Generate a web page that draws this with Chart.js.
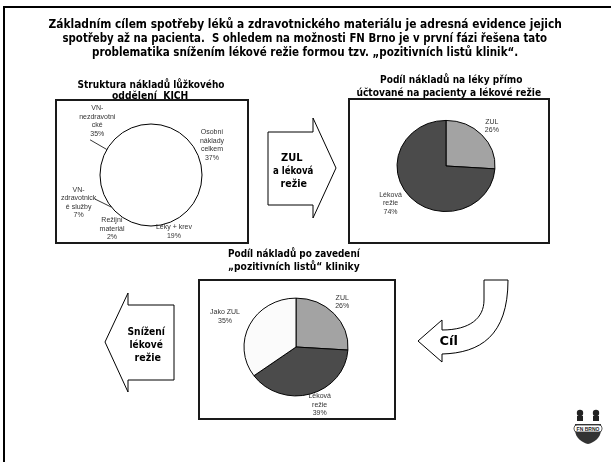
<!DOCTYPE html>
<html>
<head>
<meta charset="utf-8">
<script src="https://cdn.jsdelivr.net/npm/chart.js@4.4.1/dist/chart.umd.min.js"></script>
<style>
  html, body { margin: 0; padding: 0; }
  body { width: 611px; height: 462px; position: relative; overflow: hidden; background: #fff;
         font-family: "DejaVu Sans Condensed", "DejaVu Sans", sans-serif; }
  .frame { position: absolute; left: 3px; top: 6px; width: 620px; height: 470px;
           border-left: 2px solid #000; border-top: 2px solid #000; }
  .t { position: absolute; white-space: pre; font-weight: bold; color: #000; line-height: 1;
       transform-origin: center center; }
  .box { position: absolute; border: 2px solid #1a1a1a; background: #fff; box-sizing: border-box; }
  canvas.layer { position: absolute; left: 0; top: 0; }
  svg { position: absolute; left: 0; top: 0; }
</style>
</head>
<body>
<div class="frame"></div>

<div class="box" style="left:55px;top:99px;width:194px;height:145px"></div>
<div class="box" style="left:348px;top:98px;width:202px;height:146px"></div>
<div class="box" style="left:198px;top:279px;width:198px;height:141px"></div>

<svg width="611" height="462" viewBox="0 0 611 462">
  <!-- block arrow pointing right -->
  <polygon points="268,132 313,132 313,118 336,168 313,218 313,205 268,205"
           fill="#fff" stroke="#000" stroke-width="1"/>
  <!-- block arrow pointing left -->
  <polygon points="174,305 128,305 128,293 105,342 128,392 128,380 174,380"
           fill="#fff" stroke="#000" stroke-width="1"/>
  <!-- curved arrow -->
  <path d="M 484 280 L 508 280 C 508 336, 480 353, 442 354 L 442 362 L 418 341 L 442 320 L 442 330 C 470 330, 484 318, 484 300 Z"
        fill="#fff" stroke="#000" stroke-width="1"/>
  <!-- hospital emblem -->
  <g transform="translate(588,428)">
    <circle cx="-8" cy="-15" r="3.2" fill="#222"/>
    <circle cx="8" cy="-15" r="3.2" fill="#222"/>
    <rect x="-11" y="-12" width="6" height="5" fill="#222"/>
    <rect x="5" y="-12" width="6" height="5" fill="#222"/>
    <path d="M -13 -4 L 13 -4 L 13 2 C 13 10, 5 15, 0 16 C -5 15, -13 10, -13 2 Z" fill="#333"/>
    <rect x="-14" y="-3" width="28" height="7" rx="3" fill="#fff" stroke="#333" stroke-width="0.8"/>
    <text x="0" y="2.5" font-size="5" font-family="Liberation Sans" font-weight="bold" text-anchor="middle" fill="#222">FN BRNO</text>
  </g>
</svg>

<canvas id="pie1" class="layer" width="611" height="462"></canvas>
<canvas id="pie2" class="layer" width="611" height="462"></canvas>
<canvas id="pie3" class="layer" width="611" height="462"></canvas>

<script>
// ---- data ----
const costCategories = ['Osobní\nnáklady\ncelkem', 'Léky + krev', 'Režijní\nmateriál', 'VN-\nzdravotnick\né služby', 'VN-\nnezdravotni\ncké'];
const costShares = [37, 19, 2, 7, 35];

const drugCategories = ['ZUL', 'Léková\nrežie'];
const drugShares = [26, 74];

const afterCategories = ['ZUL', 'Léková\nrežie', 'Jako ZUL'];
const afterShares = [26, 39, 35];

const headingLines = [
  'Základním cílem spotřeby léků a zdravotnického materiálu je adresná evidence jejich',
  'spotřeby až na pacienta.  S ohledem na možnosti FN Brno je v první fázi řešena tato',
  'problematika snížením lékové režie formou tzv. „pozitivních listů klinik“.'
];

// ---- page text ----
function putText(str, cx, cy, size, width) {
  const el = document.createElement('div');
  el.className = 't';
  el.textContent = str;
  el.style.fontSize = size + 'px';
  document.body.appendChild(el);
  const w = el.offsetWidth, h = el.offsetHeight;
  el.style.left = (cx - w / 2) + 'px';
  el.style.top = (cy - h / 2) + 'px';
  if (width) el.style.transform = 'scaleX(' + (width / w) + ')';
}

putText(headingLines[0], 305, 25, 11.5, 513);
putText(headingLines[1], 305, 39, 11.5, 485);
putText(headingLines[2], 305, 53, 11.5, 426);

putText('Struktura nákladů lůžkového', 151, 84, 10.5, 147);
putText('oddělení  KICH', 150, 95, 10.5, 76);
putText('Podíl nákladů na léky přímo', 451, 79, 10.5, 142);
putText('účtované na pacienty a lékové režie', 449, 92, 10.5, 185);
putText('Podíl nákladů po zavedení', 294, 253, 10.5, 132);
putText('„pozitivních listů“ kliniky', 294, 266, 10.5, 132);

putText('ZUL', 292, 157, 11, 22);
putText('a léková', 293, 170, 11, 40);
putText('režie', 293, 183, 11, 26);
putText('Snížení', 146, 331, 11, 37);
putText('lékové', 146, 344, 11, 33);
putText('režie', 147, 357, 11, 26);
putText('Cíl', 448, 341, 12, 18);

// ---- pie drawing helpers ----
const W = 611, H = 462;

// squash the pie vertically around its centre
const ellipsePlugin = {
  id: 'ellipse',
  beforeDatasetsDraw(chart, args, opts) {
    const arc = chart.getDatasetMeta(0).data[0];
    const ctx = chart.ctx;
    ctx.save();
    ctx.translate(arc.x, arc.y);
    ctx.scale(1, opts.sy);
    ctx.translate(-arc.x, -arc.y);
  },
  afterDatasetsDraw(chart, args, opts) {
    const ctx = chart.ctx;
    if (opts.outline) {
      const arc = chart.getDatasetMeta(0).data[0];
      ctx.beginPath();
      ctx.arc(arc.x, arc.y, arc.outerRadius, 0, Math.PI * 2);
      ctx.lineWidth = 1;
      ctx.strokeStyle = '#000';
      ctx.stroke();
    }
    ctx.restore();
  }
};

// category name + percentage beside each slice, with optional leader lines
const sliceLabelPlugin = {
  id: 'sliceLabels',
  afterDraw(chart, args, opts) {
    const ctx = chart.ctx;
    const meta = chart.getDatasetMeta(0);
    const arc0 = meta.data[0];
    const cx = arc0.x, cy = arc0.y, r = arc0.outerRadius, sy = opts.sy;
    const pt = (deg, k) => {
      const a = deg * Math.PI / 180;
      return [cx + k * r * Math.sin(a), cy - k * r * Math.cos(a) * sy];
    };
    ctx.save();
    ctx.strokeStyle = '#000';
    ctx.lineWidth = 0.8;
    (opts.leaders || []).forEach(l => {
      const a = pt(l[0], l[1]), b = pt(l[2], l[3]);
      ctx.beginPath();
      ctx.moveTo(a[0], a[1]);
      ctx.lineTo(b[0], b[1]);
      ctx.stroke();
    });
    ctx.font = '7px "Liberation Sans", Arial, sans-serif';
    ctx.fillStyle = '#333';
    ctx.textAlign = 'center';
    ctx.textBaseline = 'middle';
    const labels = chart.data.labels;
    const values = chart.data.datasets[0].data;
    labels.forEach((lab, i) => {
      const lines = lab.split('\n').concat([values[i] + '%']);
      const p = pt(opts.spots[i][0], opts.spots[i][1]);
      const lh = 8.5;
      lines.forEach((s, j) => {
        ctx.fillText(s, p[0], p[1] + (j - (lines.length - 1) / 2) * lh);
      });
    });
    ctx.restore();
  }
};

function makePie(id, labels, values, colors, cfg) {
  const r = cfg.r;
  return new Chart(document.getElementById(id), {
    type: 'pie',
    data: {
      labels: labels,
      datasets: [{
        data: values,
        backgroundColor: colors,
        borderColor: cfg.border,
        borderWidth: cfg.bw
      }]
    },
    options: {
      responsive: false,
      animation: false,
      events: [],
      radius: r,
      layout: { padding: { left: cfg.cx - r, right: W - cfg.cx - r, top: cfg.cy - r, bottom: H - cfg.cy - r } },
      plugins: {
        legend: { display: false },
        tooltip: { enabled: false },
        ellipse: { sy: cfg.sy, outline: cfg.outline },
        sliceLabels: { sy: cfg.sy, spots: cfg.spots, leaders: cfg.leaders }
      }
    },
    plugins: [ellipsePlugin, sliceLabelPlugin]
  });
}

makePie('pie1', costCategories, costShares, ['#fff', '#fff', '#fff', '#fff', '#fff'], {
  cx: 151, cy: 175, r: 51, sy: 1, border: '#fff', bw: 0, outline: true,
  spots: [[64, 1.33], [158, 1.2], [216, 1.3], [249, 1.52], [315, 1.49]],
  leaders: [[300, 1.38, 300, 1.0], [247, 1.2, 231, 1.0]]
});

makePie('pie2', drugCategories, drugShares, ['#a3a3a3', '#4b4b4b'], {
  cx: 446, cy: 166, r: 49, sy: 0.93, border: '#000', bw: 1, outline: false,
  spots: [[47, 1.28], [234, 1.4]]
});

makePie('pie3', afterCategories, afterShares, ['#a3a3a3', '#4b4b4b', '#fbfbfb'], {
  cx: 296, cy: 347, r: 52, sy: 0.94, border: '#000', bw: 1, outline: false,
  spots: [[44, 1.28], [159, 1.27], [294.5, 1.5]]
});
</script>
</body>
</html>
